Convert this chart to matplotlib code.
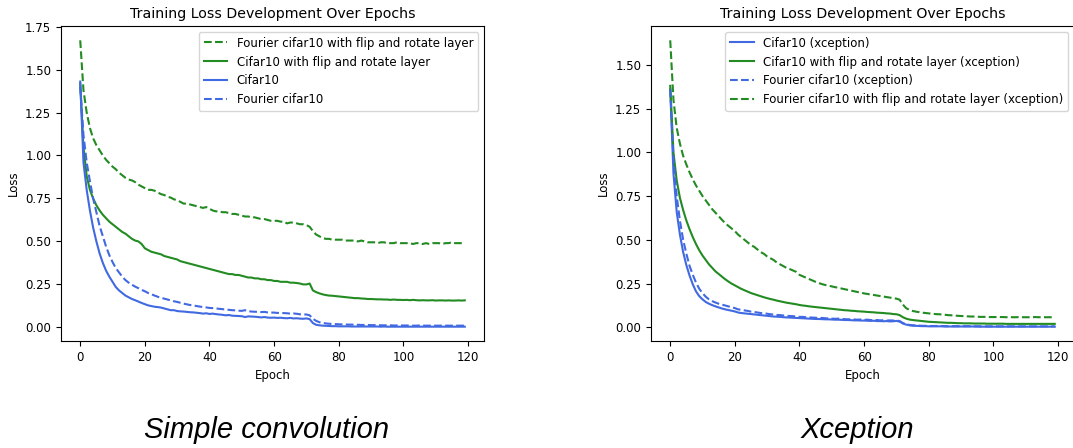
import numpy as np
import matplotlib
matplotlib.use("Agg")
import matplotlib.pyplot as plt
from matplotlib.ticker import MultipleLocator, FormatStrFormatter

# ========== DATA ==========
epochs = list(range(120))

# Simple convolution
simple_fourier_flip = [
    1.67, 1.38, 1.25, 1.16, 1.10, 1.06, 1.03, 1.00, 0.975, 0.955,
    0.935, 0.92, 0.90, 0.885, 0.87, 0.86, 0.855, 0.845, 0.83, 0.82,
    0.81, 0.80, 0.80, 0.795, 0.785, 0.775, 0.77, 0.76, 0.755, 0.745,
    0.74, 0.73, 0.72, 0.72, 0.715, 0.71, 0.705, 0.70, 0.695, 0.70,
    0.69, 0.68, 0.675, 0.675, 0.67, 0.67, 0.665, 0.66, 0.66, 0.655,
    0.65, 0.645, 0.645, 0.64, 0.64, 0.635, 0.63, 0.63, 0.625, 0.62,
    0.62, 0.62, 0.615, 0.615, 0.605, 0.61, 0.61, 0.605, 0.60, 0.60,
    0.595, 0.585, 0.56, 0.54, 0.53, 0.52, 0.515, 0.515, 0.51, 0.51,
    0.51, 0.51, 0.505, 0.505, 0.505, 0.505, 0.50, 0.505, 0.50, 0.495,
    0.495, 0.495, 0.49, 0.495, 0.495, 0.49, 0.49, 0.49, 0.495, 0.49,
    0.49, 0.49, 0.49, 0.485, 0.49, 0.49, 0.485, 0.49, 0.485, 0.49,
    0.49, 0.49, 0.485, 0.49, 0.49, 0.495, 0.49, 0.49, 0.49, 0.49,
]
simple_flip = [
    1.42, 1.05, 0.88, 0.80, 0.75, 0.71, 0.68, 0.655, 0.635, 0.615,
    0.60, 0.585, 0.57, 0.555, 0.545, 0.53, 0.515, 0.505, 0.50, 0.485,
    0.46, 0.45, 0.44, 0.435, 0.43, 0.425, 0.415, 0.41, 0.405, 0.40,
    0.395, 0.385, 0.38, 0.375, 0.37, 0.365, 0.36, 0.355, 0.35, 0.345,
    0.34, 0.335, 0.33, 0.325, 0.32, 0.315, 0.31, 0.31, 0.305, 0.305,
    0.30, 0.295, 0.29, 0.29, 0.285, 0.285, 0.28, 0.28, 0.275, 0.275,
    0.27, 0.27, 0.265, 0.265, 0.265, 0.26, 0.26, 0.258, 0.255, 0.25,
    0.25, 0.255, 0.215, 0.205, 0.198, 0.192, 0.188, 0.185, 0.184, 0.182,
    0.18, 0.178, 0.176, 0.174, 0.172, 0.17, 0.17, 0.168, 0.167, 0.165,
    0.165, 0.164, 0.163, 0.163, 0.162, 0.162, 0.16, 0.162, 0.16, 0.16,
    0.159, 0.16, 0.158, 0.16, 0.158, 0.157, 0.158, 0.157, 0.157, 0.158,
    0.156, 0.157, 0.157, 0.156, 0.157, 0.156, 0.156, 0.157, 0.156, 0.157,
]
simple_cifar = [
    1.43, 0.96, 0.80, 0.68, 0.58, 0.50, 0.43, 0.375, 0.33, 0.295,
    0.265, 0.235, 0.215, 0.20, 0.185, 0.175, 0.165, 0.158, 0.15, 0.142,
    0.135, 0.128, 0.124, 0.12, 0.118, 0.115, 0.11, 0.105, 0.10, 0.10,
    0.095, 0.093, 0.092, 0.09, 0.088, 0.087, 0.085, 0.083, 0.08, 0.082,
    0.078, 0.08, 0.077, 0.075, 0.073, 0.07, 0.072, 0.068, 0.067, 0.066,
    0.065, 0.06, 0.064, 0.063, 0.062, 0.06, 0.058, 0.06, 0.057, 0.056,
    0.057, 0.055, 0.056, 0.054, 0.053, 0.055, 0.052, 0.053, 0.051, 0.05,
    0.052, 0.048, 0.025, 0.015, 0.012, 0.01, 0.009, 0.008, 0.007, 0.007,
    0.006, 0.006, 0.006, 0.006, 0.005, 0.005, 0.005, 0.005, 0.005, 0.005,
    0.005, 0.005, 0.005, 0.004, 0.005, 0.004, 0.004, 0.004, 0.004, 0.004,
    0.004, 0.004, 0.004, 0.004, 0.004, 0.004, 0.004, 0.004, 0.004, 0.004,
    0.004, 0.004, 0.004, 0.004, 0.004, 0.004, 0.004, 0.004, 0.004, 0.004,
]
simple_fourier = [
    1.40, 1.12, 0.96, 0.85, 0.75, 0.67, 0.59, 0.53, 0.47, 0.42,
    0.38, 0.345, 0.32, 0.295, 0.275, 0.26, 0.248, 0.237, 0.228, 0.218,
    0.21, 0.2, 0.193, 0.185, 0.178, 0.172, 0.167, 0.162, 0.157, 0.152,
    0.148, 0.143, 0.138, 0.134, 0.13, 0.127, 0.124, 0.121, 0.118, 0.116,
    0.113, 0.112, 0.11, 0.108, 0.106, 0.104, 0.102, 0.1, 0.099, 0.097,
    0.096, 0.1, 0.094, 0.092, 0.091, 0.09, 0.089, 0.09, 0.087, 0.086,
    0.086, 0.084, 0.085, 0.083, 0.082, 0.08, 0.081, 0.079, 0.076, 0.075,
    0.075, 0.07, 0.05, 0.038, 0.03, 0.026, 0.023, 0.021, 0.02, 0.019,
    0.018, 0.017, 0.017, 0.016, 0.016, 0.015, 0.015, 0.014, 0.014, 0.014,
    0.013, 0.013, 0.013, 0.012, 0.012, 0.012, 0.012, 0.011, 0.011, 0.011,
    0.011, 0.011, 0.011, 0.01, 0.01, 0.011, 0.01, 0.01, 0.01, 0.01,
    0.01, 0.01, 0.01, 0.01, 0.01, 0.01, 0.01, 0.01, 0.01, 0.01,
]

# Xception
xc_cifar = [
    1.36, 0.88, 0.66, 0.53, 0.43, 0.355, 0.295, 0.245, 0.205, 0.178,
    0.16, 0.145, 0.135, 0.127, 0.12, 0.114, 0.108, 0.103, 0.099, 0.095,
    0.091, 0.085, 0.082, 0.08, 0.078, 0.076, 0.074, 0.072, 0.07, 0.068,
    0.066, 0.064, 0.062, 0.061, 0.06, 0.058, 0.057, 0.056, 0.055, 0.054,
    0.053, 0.052, 0.051, 0.05, 0.049, 0.048, 0.048, 0.047, 0.046, 0.046,
    0.045, 0.044, 0.044, 0.043, 0.042, 0.042, 0.041, 0.04, 0.04, 0.039,
    0.039, 0.038, 0.037, 0.038, 0.036, 0.036, 0.035, 0.036, 0.034, 0.035,
    0.037, 0.033, 0.022, 0.016, 0.012, 0.01, 0.009, 0.008, 0.007, 0.007,
    0.006, 0.006, 0.006, 0.006, 0.006, 0.005, 0.005, 0.005, 0.005, 0.005,
    0.005, 0.005, 0.005, 0.005, 0.005, 0.005, 0.004, 0.004, 0.004, 0.004,
    0.004, 0.004, 0.004, 0.004, 0.004, 0.004, 0.004, 0.004, 0.004, 0.004,
    0.004, 0.004, 0.004, 0.004, 0.004, 0.004, 0.004, 0.004, 0.004, 0.004,
]
xc_flip = [
    1.38, 1.0, 0.84, 0.74, 0.67, 0.61, 0.56, 0.515, 0.475, 0.44,
    0.41, 0.385, 0.36, 0.34, 0.32, 0.305, 0.29, 0.275, 0.262, 0.25,
    0.24, 0.23, 0.22, 0.212, 0.204, 0.196, 0.19, 0.184, 0.178, 0.172,
    0.167, 0.162, 0.158, 0.153, 0.149, 0.145, 0.141, 0.138, 0.135, 0.132,
    0.128, 0.125, 0.123, 0.12, 0.118, 0.116, 0.114, 0.112, 0.11, 0.108,
    0.106, 0.104, 0.102, 0.1, 0.098, 0.097, 0.095, 0.094, 0.092, 0.091,
    0.09, 0.088, 0.087, 0.086, 0.084, 0.083, 0.082, 0.08, 0.079, 0.076,
    0.075, 0.07, 0.058, 0.05, 0.045, 0.042, 0.04, 0.038, 0.036, 0.034,
    0.032, 0.031, 0.03, 0.029, 0.028, 0.027, 0.026, 0.026, 0.025, 0.024,
    0.024, 0.023, 0.023, 0.023, 0.022, 0.022, 0.022, 0.022, 0.021, 0.021,
    0.021, 0.021, 0.021, 0.021, 0.02, 0.02, 0.02, 0.02, 0.02, 0.02,
    0.02, 0.02, 0.02, 0.02, 0.02, 0.02, 0.02, 0.02, 0.02, 0.02,
]
xc_fourier = [
    1.36, 0.96, 0.75, 0.61, 0.50, 0.42, 0.35, 0.30, 0.255, 0.22,
    0.195, 0.175, 0.16, 0.15, 0.142, 0.135, 0.13, 0.125, 0.12, 0.115,
    0.11, 0.103, 0.1, 0.097, 0.094, 0.09, 0.088, 0.085, 0.082, 0.08,
    0.078, 0.075, 0.073, 0.071, 0.07, 0.068, 0.066, 0.065, 0.064, 0.062,
    0.06, 0.06, 0.058, 0.057, 0.056, 0.055, 0.053, 0.054, 0.052, 0.051,
    0.05, 0.049, 0.05, 0.048, 0.047, 0.046, 0.047, 0.045, 0.044, 0.045,
    0.043, 0.044, 0.042, 0.041, 0.042, 0.04, 0.041, 0.039, 0.04, 0.039,
    0.04, 0.036, 0.025, 0.018, 0.014, 0.012, 0.011, 0.01, 0.009, 0.009,
    0.008, 0.008, 0.008, 0.008, 0.008, 0.007, 0.007, 0.007, 0.007, 0.007,
    0.007, 0.007, 0.007, 0.007, 0.006, 0.006, 0.006, 0.006, 0.006, 0.006,
    0.006, 0.006, 0.006, 0.006, 0.006, 0.006, 0.006, 0.006, 0.006, 0.006,
    0.006, 0.006, 0.006, 0.006, 0.006, 0.006, 0.006, 0.006, 0.006, 0.006,
]
xc_fourier_flip = [
    1.64, 1.30, 1.14, 1.05, 0.98, 0.93, 0.885, 0.845, 0.81, 0.78,
    0.75, 0.725, 0.70, 0.675, 0.655, 0.635, 0.615, 0.595, 0.58, 0.565,
    0.55, 0.53, 0.515, 0.5, 0.485, 0.47, 0.46, 0.445, 0.43, 0.42,
    0.405, 0.395, 0.385, 0.37, 0.36, 0.35, 0.34, 0.333, 0.325, 0.317,
    0.30, 0.292, 0.284, 0.276, 0.268, 0.26, 0.253, 0.247, 0.242, 0.238,
    0.234, 0.23, 0.226, 0.222, 0.218, 0.214, 0.21, 0.206, 0.202, 0.198,
    0.194, 0.191, 0.188, 0.185, 0.182, 0.179, 0.176, 0.173, 0.17, 0.167,
    0.164, 0.158, 0.13, 0.11, 0.1, 0.094, 0.09, 0.087, 0.084, 0.082,
    0.08, 0.078, 0.076, 0.075, 0.074, 0.072, 0.07, 0.069, 0.068, 0.066,
    0.065, 0.064, 0.063, 0.062, 0.062, 0.061, 0.06, 0.06, 0.06, 0.059,
    0.059, 0.059, 0.059, 0.059, 0.058, 0.059, 0.058, 0.058, 0.059, 0.058,
    0.058, 0.058, 0.058, 0.059, 0.058, 0.058, 0.058, 0.058, 0.058, 0.058,
]

BLUE = 'royalblue'
GREEN = 'forestgreen'
FS = 8.5

fig = plt.figure(figsize=(10.73, 4.48), dpi=100)
W, H = 1073, 448
ax1 = fig.add_axes([61 / W, (H - 341) / H, 423 / W, 315 / H])
ax2 = fig.add_axes([651 / W, (H - 341) / H, 423 / W, 315 / H])

# ---- Simple convolution ----
ax1.plot(epochs, simple_fourier_flip, '--', color=GREEN, label='Fourier cifar10 with flip and rotate layer')
ax1.plot(epochs, simple_flip, '-', color=GREEN, label='Cifar10 with flip and rotate layer')
ax1.plot(epochs, simple_cifar, '-', color=BLUE, label='Cifar10')
ax1.plot(epochs, simple_fourier, '--', color=BLUE, label='Fourier cifar10')

# ---- Xception ----
ax2.plot(epochs, xc_cifar, '-', color=BLUE, label='Cifar10 (xception)')
ax2.plot(epochs, xc_flip, '-', color=GREEN, label='Cifar10 with flip and rotate layer (xception)')
ax2.plot(epochs, xc_fourier, '--', color=BLUE, label='Fourier cifar10 (xception)')
ax2.plot(epochs, xc_fourier_flip, '--', color=GREEN, label='Fourier cifar10 with flip and rotate layer (xception)')

for ax in (ax1, ax2):
    ax.set_title('Training Loss Development Over Epochs', fontsize=10.2)
    ax.set_xlabel('Epoch', fontsize=FS)
    ax.set_ylabel('Loss', fontsize=FS)
    ax.tick_params(labelsize=FS)
    ax.yaxis.set_major_locator(MultipleLocator(0.25))
    ax.yaxis.set_major_formatter(FormatStrFormatter('%.2f'))
    ax.legend(loc='upper right', fontsize=FS)

fig.text(267 / W, 1 - 430 / H, 'Simple convolution', ha='center', va='center',
         fontsize=21, style='italic', family='Liberation Sans')
fig.text(857 / W, 1 - 430 / H, 'Xception', ha='center', va='center',
         fontsize=21, style='italic', family='Liberation Sans')

fig.savefig('out.png', dpi=100)
